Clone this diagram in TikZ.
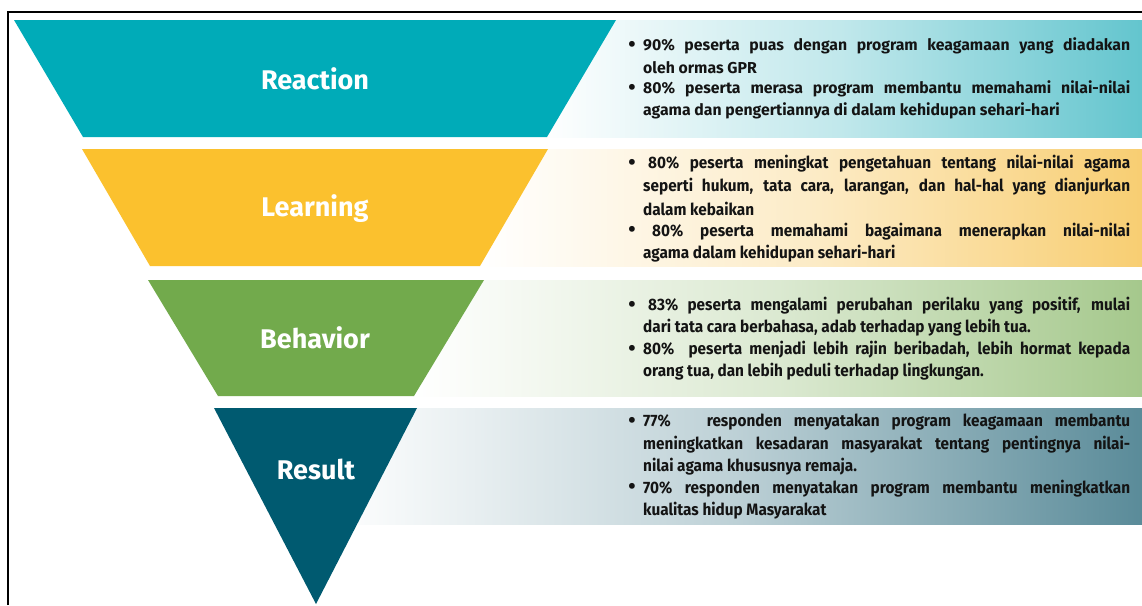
\documentclass[tikz,border=0pt]{standalone}
\usepackage{fontspec}
\setmainfont{Fira Sans}
\newfontfamily\bodyfont{Fira Sans}
\newfontfamily\condfont[FakeStretch=0.93]{Fira Sans}
\definecolor{cReact}{HTML}{00ABB8}
\definecolor{cLearn}{HTML}{FBC12E}
\definecolor{cBehav}{HTML}{72AA4C}
\definecolor{cResult}{HTML}{005A70}
\definecolor{pReact}{HTML}{63C5CE}
\definecolor{pLearn}{HTML}{F8CE72}
\definecolor{pBehav}{HTML}{A5C88C}
\definecolor{pResult}{HTML}{5A8B99}
\definecolor{txt}{HTML}{141414}
\tikzset{
  label/.style={text=white,font=\bfseries\fontsize{27}{30}\selectfont,inner sep=0pt},
  ln/.style={anchor=west,text=txt,font=\bodyfont\bfseries\fontsize{15.8}{18}\selectfont,inner sep=0pt},
  lnc/.style={anchor=west,text=txt,font=\condfont\bfseries\fontsize{16.5}{19}\selectfont,inner sep=0pt},
  bul/.style={text=txt,font=\bodyfont\bfseries\fontsize{21}{22}\selectfont,inner sep=0pt},
  frame/.style={line width=1.6pt,black}
}
\newcommand{\jl}[1]{\makebox[487pt][s]{#1}}
\begin{document}
\begin{tikzpicture}[x=1pt,y=-1pt]
\useasboundingbox (0,0) rectangle (1142,605);
\fill[white] (0,0) rectangle (1142,605);
% panels
\shade[left color=white,right color=pReact,middle color=pReact!40] (540,20) rectangle (1142,137);
\shade[left color=white,right color=pLearn,middle color=pLearn!40] (480,149) rectangle (1142,266);
\shade[left color=white,right color=pBehav,middle color=pBehav!40] (414,280) rectangle (1142,396);
\shade[left color=white,right color=pResult,middle color=pResult!40] (330,408) rectangle (1142,524);
% funnel
\fill[cReact] (14,20) -- (616,20) -- (547,137) -- (83,137) -- cycle;
\fill[cLearn] (82,149) -- (548,149) -- (480,266) -- (150,266) -- cycle;
\fill[cBehav] (148,280) -- (484,280) -- (414,396) -- (218,396) -- cycle;
\fill[cResult] (214,408) -- (417,408) -- (316,604) -- cycle;
% frame
\draw[frame] (8,605) -- (8,12) -- (1142,12);
% labels
\node[label] (lReact) at (315,79) {Reaction};
\node[label] (lLearn) at (315,209) {Learning};
\node[label] (lBehav) at (315,338) {Behavior};
\node[label] (lResult) at (316,469) {Result};
% Reaction text
\node[bul] (bR1) at (632,46) {\textbullet};
\node[ln] (r1) at (643,46) {\jl{90\% peserta puas dengan program keagamaan yang diadakan}};
\node[ln] (r2) at (643,67.5) {oleh ormas GPR};
\node[bul] (bR2) at (632,89) {\textbullet};
\node[ln] (r3) at (643,89) {\jl{80\% peserta merasa program membantu memahami nilai-nilai}};
\node[ln] (r4) at (643,110.5) {agama dan pengertiannya di dalam kehidupan sehari-hari};
% Learning text
\node[bul] (bL1) at (632,164) {\textbullet};
\node[lnc] (l1) at (648,164) {\makebox[482pt][s]{80\% peserta meningkat pengetahuan tentang nilai-nilai agama}};
\node[lnc] (l2) at (643,186.5) {\jl{seperti hukum, tata cara, larangan, dan hal-hal yang dianjurkan}};
\node[lnc] (l3) at (643,209) {dalam kebaikan};
\node[bul] (bL2) at (632,231.5) {\textbullet};
\node[lnc] (l4) at (652,231.5) {\makebox[478pt][s]{80\% peserta memahami bagaimana menerapkan nilai-nilai}};
\node[lnc] (l5) at (643,254) {agama dalam kehidupan sehari-hari};
% Behavior text
\node[bul] (bB1) at (632,306) {\textbullet};
\node[lnc] (b1) at (648,306) {\makebox[482pt][s]{83\% peserta mengalami perubahan perilaku yang positif, mulai}};
\node[lnc] (b2) at (643,328) {dari tata cara berbahasa, adab terhadap yang lebih tua.};
\node[bul] (bB2) at (632,350) {\textbullet};
\node[lnc] (b3) at (643,350) {\jl{80\%\ \ peserta menjadi lebih rajin beribadah, lebih hormat kepada}};
\node[lnc] (b4) at (643,372) {orang tua, dan lebih peduli terhadap lingkungan.};
% Result text
\node[bul] (bS1) at (632,422.5) {\textbullet};
\node[lnc] (s1) at (643,422.5) {\jl{77\%\ \ \ responden menyatakan program keagamaan membantu}};
\node[lnc] (s2) at (643,444.5) {\jl{meningkatkan kesadaran masyarakat tentang pentingnya nilai-}};
\node[lnc] (s3) at (643,466.5) {nilai agama khususnya remaja.};
\node[bul] (bS2) at (632,488.5) {\textbullet};
\node[lnc] (s4) at (643,488.5) {\jl{70\% responden menyatakan program membantu meningkatkan}};
\node[lnc] (s5) at (643,510.5) {kualitas hidup Masyarakat};
\end{tikzpicture}
\end{document}
